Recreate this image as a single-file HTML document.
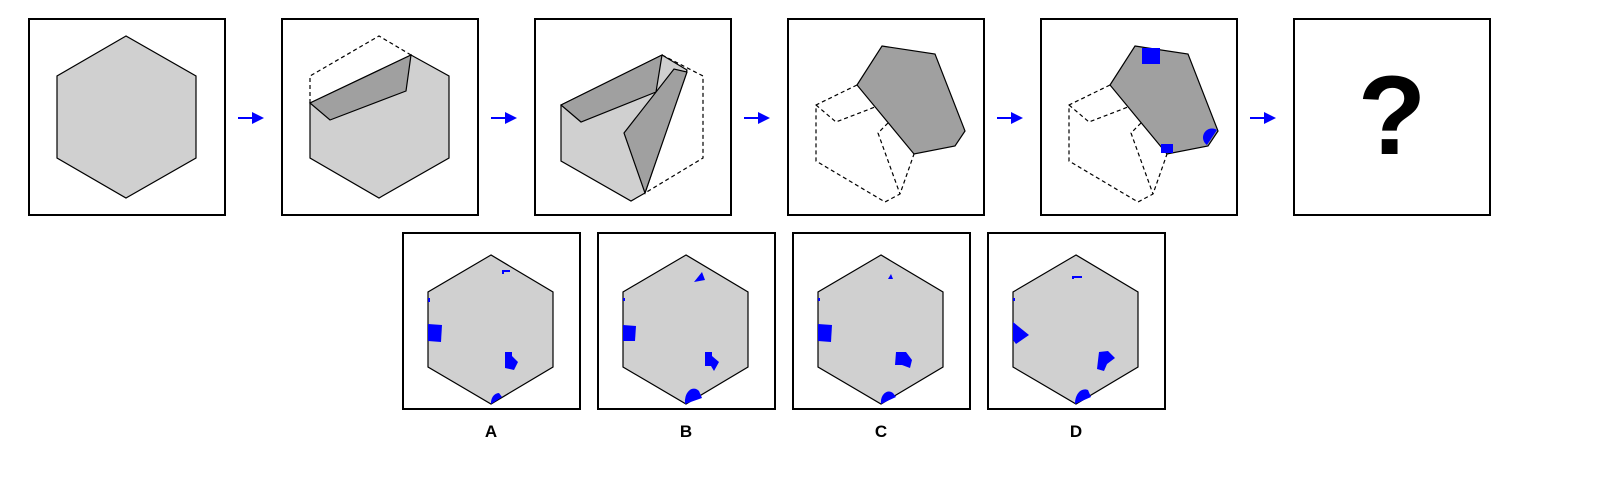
<!DOCTYPE html>
<html><head><meta charset="utf-8"><style>
html,body{margin:0;padding:0;background:#fff;}
svg{display:block;}
text{font-family:"Liberation Sans",sans-serif;font-weight:bold;}
</style></head><body>
<svg width="1610" height="490" viewBox="0 0 1610 490">
<defs>
<marker id="ah" markerWidth="6" markerHeight="6" refX="5" refY="3" orient="auto"><path d="M0,0 L6,3 L0,6 z" fill="#0000ff"/></marker>
</defs>
<g fill="#fff" stroke="#000" stroke-width="2">
<rect x="29" y="19" width="196" height="196"/>
<rect x="282" y="19" width="196" height="196"/>
<rect x="535" y="19" width="196" height="196"/>
<rect x="788" y="19" width="196" height="196"/>
<rect x="1041" y="19" width="196" height="196"/>
<rect x="1294" y="19" width="196" height="196"/>
</g>
<g stroke="#0000ff" stroke-width="2" marker-end="url(#ah)">
<line x1="238" y1="118" x2="262" y2="118"/>
<line x1="491" y1="118" x2="515" y2="118"/>
<line x1="744" y1="118" x2="768" y2="118"/>
<line x1="997" y1="118" x2="1021" y2="118"/>
<line x1="1250" y1="118" x2="1274" y2="118"/>
</g>
<polygon points="126,36 57,76 57,158 126,198 196,158 196,76" fill="#d0d0d0" stroke="#000" stroke-width="1.2"/>
<g stroke="#000" stroke-width="1.2">
<polyline points="310,103 310,76 379,36 411,55" fill="none" stroke-dasharray="4,3"/>
<polygon points="310,103 411,55 449,76 449,158 379,198 310,158" fill="#d0d0d0"/>
<polygon points="310,103 411,55 406,91 330,120" fill="#a0a0a0"/>
</g>
<g stroke="#000" stroke-width="1.2">
<polyline points="662,55 703,76 703,158 645,193" fill="none" stroke-dasharray="4,3"/>
<polygon points="561,105 662,55 687,70 645,193 631,201 561,161" fill="#d0d0d0"/>
<polygon points="561,105 662,55 656,92 581,122" fill="#a0a0a0"/>
<polygon points="624,133 674,69 687,72 645,193" fill="#a0a0a0"/>
</g>
<g stroke="#000" stroke-width="1.2">
<g fill="none" stroke-dasharray="4,3">
<polyline points="857,85 816,105 816,161 885,202 900,194 914,154"/>
<polyline points="816,105 836,122 875,107"/>
<polyline points="888,123 878,133 900,194"/>
</g>
<polygon points="882,46 935,54 965,131 955,146 914,154 857,85" fill="#a0a0a0"/>
</g>
<g stroke="#000" stroke-width="1.2">
<g fill="none" stroke-dasharray="4,3">
<polyline points="1110,85 1069,105 1069,161 1138,202 1153,194 1167,154"/>
<polyline points="1069,105 1089,122 1128,107"/>
<polyline points="1141,123 1131,133 1153,194"/>
</g>
<polygon points="1135,46 1188,54 1218,131 1208,146 1167,154 1110,85" fill="#a0a0a0"/>
</g>
<g fill="#0000ff">
<rect x="1142" y="48" width="18" height="16"/>
<rect x="1161" y="144" width="12" height="9"/>
<path d="M1217,130 L1207,145 A8,8 0 0 1 1217,130 z"/>
</g>
<text x="1392" y="154" font-size="112" text-anchor="middle">?</text>
<g fill="#fff" stroke="#000" stroke-width="2">
<rect x="403" y="233" width="177" height="176"/>
<rect x="598" y="233" width="177" height="176"/>
<rect x="793" y="233" width="177" height="176"/>
<rect x="988" y="233" width="177" height="176"/>
</g>
<g fill="#d0d0d0" stroke="#000" stroke-width="1.2">
<polygon points="491,255 428,292 428,367 491,404 553,367 553,292"/>
<polygon points="686,255 623,292 623,367 686,404 748,367 748,292"/>
<polygon points="881,255 818,292 818,367 881,404 943,367 943,292"/>
<polygon points="1076,255 1013,292 1013,367 1076,404 1138,367 1138,292"/>
</g>
<g fill="#0000ff" stroke="none">
<g>
<rect x="502" y="270" width="8" height="2"/><rect x="502" y="270" width="2" height="4"/>
<rect x="428" y="298" width="2" height="4"/>
<polygon points="428,324 442,325 441,342 428,341"/>
<polygon points="505,352 512,352 512,356 518,362 514,370 505,368"/>
<path d="M491,404 A8,10 0 0 1 499,393 L502,397 z"/>
</g>
<g>
<polygon points="694,282 702,272 705,280"/>
<rect x="623" y="298" width="2" height="3"/>
<polygon points="623,325 636,326 635,341 623,341"/>
<polygon points="705,352 712,352 712,356 719,362 714,371 711,366 705,366"/>
<path d="M685,404 A9,13 0 0 1 699,391 L702,398 z"/>
</g>
<g>
<polygon points="888,279 891,274 893,279"/>
<rect x="818" y="298" width="2" height="3"/>
<polygon points="818,324 832,325 831,342 818,341"/>
<polygon points="896,352 906,352 912,360 910,368 902,365 895,365"/>
<path d="M881,404 A8,11 0 0 1 893,393 L896,397 z"/>
</g>
<g>
<rect x="1072" y="276" width="10" height="2"/><rect x="1072" y="276" width="2" height="3"/>
<rect x="1013" y="298" width="2" height="3"/>
<polygon points="1013,322 1029,335 1016,344 1013,340"/>
<polygon points="1099,352 1108,351 1115,358 1107,364 1104,371 1097,369"/>
<path d="M1075,404 A10,14 0 0 1 1088,390 L1091,397 z"/>
</g>
</g>
<g font-size="17" text-anchor="middle" fill="#000">
<text x="491" y="437">A</text>
<text x="686" y="437">B</text>
<text x="881" y="437">C</text>
<text x="1076" y="437">D</text>
</g>
</svg>
</body></html>
